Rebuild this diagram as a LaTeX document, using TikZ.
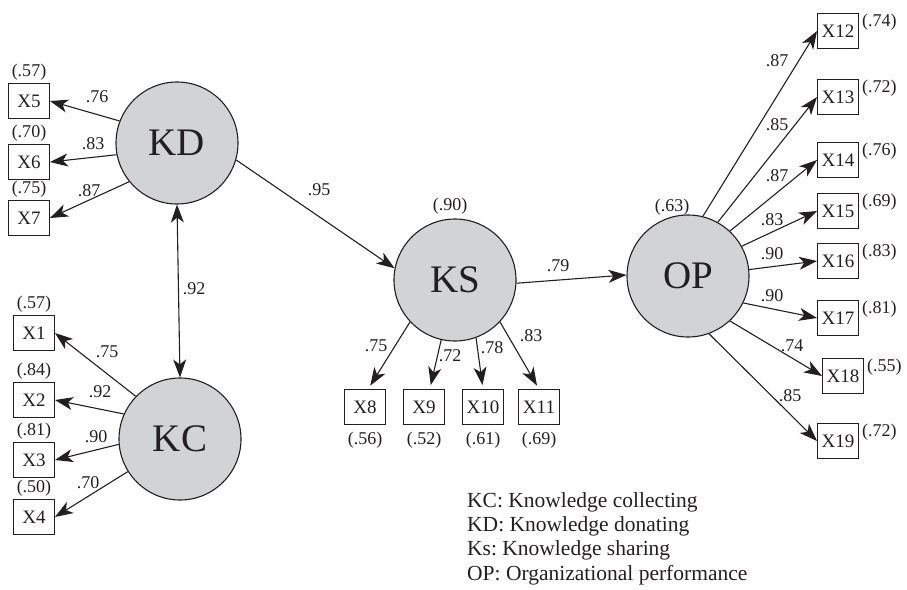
\documentclass[tikz,border=0pt]{standalone}
\usepackage{fontspec}
\setmainfont{Liberation Serif}
\usetikzlibrary{arrows.meta,calc}
\definecolor{ink}{RGB}{35,31,32}
\definecolor{cfill}{RGB}{209,211,212}
\begin{document}
\frenchspacing
\begin{tikzpicture}[x=1pt,y=-1pt,
 latent/.style={circle,draw=ink,fill=cfill,line width=1.1pt,minimum size=122pt,inner sep=0pt,font=\fontsize{39}{39}\selectfont,text=ink},
 obs/.style={draw=ink,line width=0.9pt,minimum width=41pt,minimum height=35pt,inner sep=1pt,font=\fontsize{19}{19}\selectfont,text=ink},
 lbl/.style={inner sep=0pt,font=\fontsize{18}{18}\selectfont,text=ink},
 legendtxt/.style={inner sep=0pt,anchor=base west,font=\fontsize{21.5}{23}\selectfont,text=ink},
 conn/.style={draw=ink,line width=1.1pt,-{Stealth[length=18pt,width=13pt,inset=5pt]}},
 dconn/.style={draw=ink,line width=1.1pt,{Stealth[length=18pt,width=13pt,inset=5pt]}-{Stealth[length=18pt,width=13pt,inset=5pt]}},
]
\useasboundingbox (0,0) rectangle (907,589);

% latent variables
\node[latent] (KD) at (177,143) {KD};
\node[latent] (KC) at (180,439) {KC};
\node[latent] (KS) at (455,280) {KS};
\node[latent] (OP) at (688,276) {OP};

% KD indicators
\node[obs] (X5) at (29,101) {X5};
\node[obs] (X6) at (29,162) {X6};
\node[obs] (X7) at (29,218) {X7};
% KC indicators
\node[obs] (X1) at (34,333) {X1};
\node[obs] (X2) at (34,400) {X2};
\node[obs] (X3) at (34,460) {X3};
\node[obs] (X4) at (34,517) {X4};
% KS indicators
\node[obs] (X8) at (365,407) {X8};
\node[obs] (X9) at (424,407) {X9};
\node[obs] (X10) at (483,407) {X10};
\node[obs] (X11) at (539,407) {X11};
% OP indicators
\node[obs] (X12) at (838,31) {X12};
\node[obs] (X13) at (838,97) {X13};
\node[obs] (X14) at (838,160) {X14};
\node[obs] (X15) at (838,211) {X15};
\node[obs] (X16) at (838,261) {X16};
\node[obs] (X17) at (838,318) {X17};
\node[obs] (X18) at (843,376) {X18};
\node[obs] (X19) at (838,441) {X19};

% error variances
\node[lbl] (e5) at ($(X5.north)+(0,-11)$) {(.57)};
\node[lbl] (e6) at ($(X6.north)+(0,-11)$) {(.70)};
\node[lbl] (e7) at ($(X7.north)+(0,-11)$) {(.75)};
\node[lbl] (e1) at ($(X1.north)+(0,-11)$) {(.57)};
\node[lbl] (e2) at ($(X2.north)+(0,-11)$) {(.84)};
\node[lbl] (e3) at ($(X3.north)+(0,-11)$) {(.81)};
\node[lbl] (e4) at ($(X4.north)+(0,-11)$) {(.50)};
\node[lbl] (e8) at ($(X8.south)+(0,15)$) {(.56)};
\node[lbl] (e9) at ($(X9.south)+(0,15)$) {(.52)};
\node[lbl] (e10) at ($(X10.south)+(0,15)$) {(.61)};
\node[lbl] (e11) at ($(X11.south)+(0,15)$) {(.69)};
\node[lbl,anchor=west] (e12) at ($(X12.north east)+(3,9)$) {(.74)};
\node[lbl,anchor=west] (e13) at ($(X13.north east)+(3,9)$) {(.72)};
\node[lbl,anchor=west] (e14) at ($(X14.north east)+(3,9)$) {(.76)};
\node[lbl,anchor=west] (e15) at ($(X15.north east)+(3,9)$) {(.69)};
\node[lbl,anchor=west] (e16) at ($(X16.north east)+(3,9)$) {(.83)};
\node[lbl,anchor=west] (e17) at ($(X17.north east)+(3,9)$) {(.81)};
\node[lbl,anchor=west] (e18) at ($(X18.north east)+(3,9)$) {(.55)};
\node[lbl,anchor=west] (e19) at ($(X19.north east)+(3,9)$) {(.72)};
\node[lbl] (rKS) at (450,206) {(.90)};
\node[lbl] (rOP) at (672,207) {(.63)};

% connectors
\draw[conn] (KD.159) -- (X5.east);
\draw[conn] (KD.191) -- (X6.east);
\draw[conn] (KD.219) -- (X7.east);
\draw[conn] (KC.136) -- (X1.east);
\draw[conn] (KC.156) -- (X2.east);
\draw[conn] (KC.185) -- (X3.east);
\draw[conn] (KC.212) -- (X4.east);
\draw[dconn] (KD.south) -- (KC.north);
\draw[conn] (KD.-16) -- (KS.169);
\draw[conn,shorten >=4pt] (KS.223) -- (X8.80);
\draw[conn,shorten >=4pt] (KS.257) -- (X9.72);
\draw[conn,shorten >=4pt] (KS.290) -- (X10.north);
\draw[conn,shorten >=4pt] (KS.317) -- (X11.north);
\draw[conn] (KS.-3) -- (OP.179);
\draw[conn] (OP.76) -- (X12.west);
\draw[conn] (OP.61) -- (X13.west);
\draw[conn] (OP.47) -- (X14.west);
\draw[conn] (OP.29) -- (X15.west);
\draw[conn] (OP.6) -- (X16.west);
\draw[conn] (OP.-26) -- (X17.west);
\draw[conn] (OP.-47) -- (X18.west);
\draw[conn] (OP.-70) -- (X19.west);

% loadings
\node[lbl] (l5) at (97,97) {.76};
\node[lbl] (l6) at (93,144) {.83};
\node[lbl] (l7) at (89,191) {.87};
\node[lbl] (l1) at (107,352) {.75};
\node[lbl] (l2) at (100,392) {.92};
\node[lbl] (l3) at (96,437) {.90};
\node[lbl] (l4) at (88,483) {.70};
\node[lbl] (lkdkc) at (194,289) {.92};
\node[lbl] (lkdks) at (319,190) {.95};
\node[lbl] (l8) at (376,346) {.75};
\node[lbl] (l9) at (450,356) {.72};
\node[lbl] (l10) at (492,348) {.78};
\node[lbl] (l11) at (531,336) {.83};
\node[lbl] (lksop) at (558,266) {.79};
\node[lbl] (l12) at (777,61) {.87};
\node[lbl] (l13) at (777,125) {.85};
\node[lbl] (l14) at (777,176) {.87};
\node[lbl] (l15) at (772,220) {.83};
\node[lbl] (l16) at (772,254) {.90};
\node[lbl] (l17) at (772,296) {.90};
\node[lbl] (l18) at (792,346) {.74};
\node[lbl] (l19) at (790,396) {.85};

% legend
\node[legendtxt] (g1) at (467,507) {KC: Knowledge collecting};
\node[legendtxt] (g2) at (467,531) {KD: Knowledge donating};
\node[legendtxt] (g3) at (467,555) {Ks: Knowledge sharing};
\node[legendtxt] (g4) at (467,580) {OP: Organizational performance};
\end{tikzpicture}
\end{document}
